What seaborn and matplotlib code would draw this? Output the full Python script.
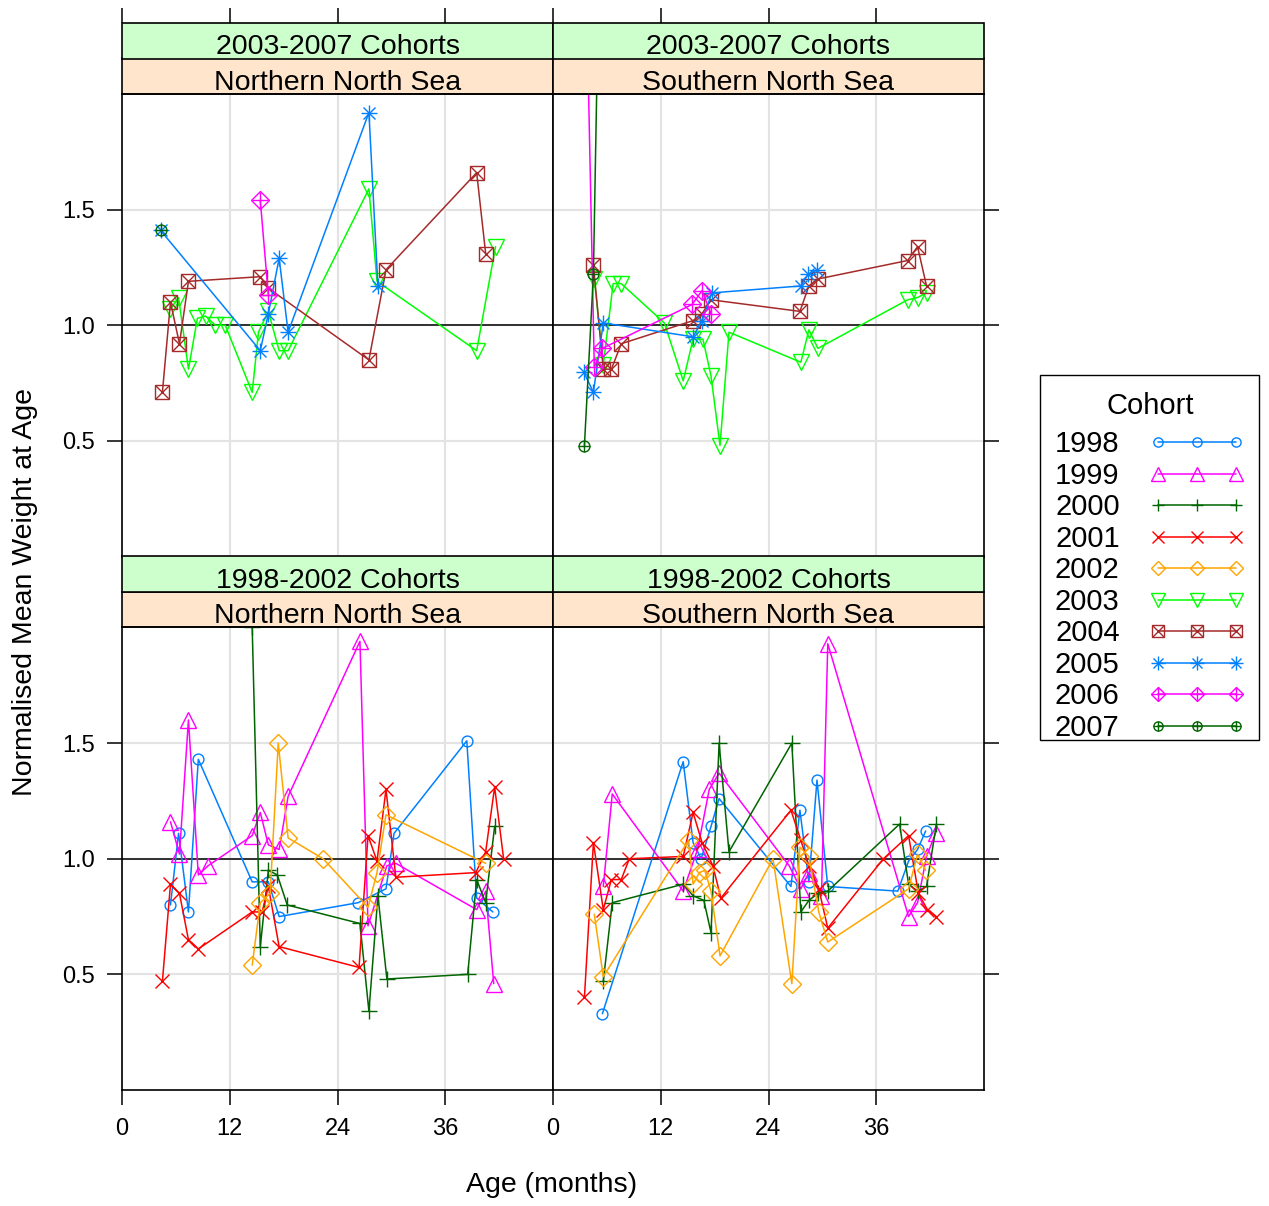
import pandas as pd
import seaborn as sns
import matplotlib.pyplot as plt
from matplotlib.lines import Line2D
from matplotlib.patches import Rectangle
from matplotlib.legend_handler import HandlerTuple

# panels
groups = ["2003-2007 Cohorts", "1998-2002 Cohorts"]
regions = ["Northern North Sea", "Southern North Sea"]
cohorts = [1998, 1999, 2000, 2001, 2002, 2003, 2004, 2005, 2006, 2007]

# Northern North Sea, 2003-2007 cohorts
nl_2003_age = [5.4, 6.3, 7.4, 8.4, 9.3, 10.4, 11.5, 14.5, 15.2, 16.3, 17.5, 18.5, 27.5, 28.4, 39.5, 41.6]
nl_2003_wt = [1.07, 1.12, 0.81, 1.03, 1.04, 1.00, 1.00, 0.71, 0.97, 1.06, 0.89, 0.89, 1.59, 1.19, 0.89, 1.34]
nl_2004_age = [4.5, 5.4, 6.4, 7.4, 15.4, 16.3, 27.5, 29.4, 39.5, 40.5]
nl_2004_wt = [0.71, 1.10, 0.92, 1.19, 1.21, 1.16, 0.85, 1.24, 1.66, 1.31]
nl_2005_age = [4.3, 15.4, 16.3, 17.5, 18.5, 27.5, 28.5]
nl_2005_wt = [1.41, 0.89, 1.05, 1.29, 0.97, 1.92, 1.17]
nl_2006_age = [15.4, 16.3]
nl_2006_wt = [1.54, 1.13]
nl_2007_age = [4.3]
nl_2007_wt = [1.41]

# Southern North Sea, 2003-2007 cohorts
sl_2003_age = [4.6, 5.6, 6.7, 7.6, 12.4, 14.5, 15.6, 16.7, 17.6, 18.6, 19.6, 27.6, 28.5, 29.5, 39.5, 40.6, 41.6]
sl_2003_wt = [1.20, 0.83, 1.18, 1.18, 1.01, 0.76, 0.94, 0.94, 0.78, 0.48, 0.97, 0.84, 0.98, 0.90, 1.11, 1.12, 1.14]
sl_2004_age = [4.5, 5.6, 6.5, 7.6, 15.6, 16.6, 17.6, 27.5, 28.5, 29.5, 39.5, 40.6, 41.6]
sl_2004_wt = [1.26, 0.81, 0.81, 0.92, 1.02, 1.05, 1.11, 1.06, 1.17, 1.20, 1.28, 1.34, 1.17]
sl_2005_age = [3.4, 4.5, 5.6, 15.6, 16.6, 17.7, 27.6, 28.4, 29.4]
sl_2005_wt = [0.80, 0.71, 1.01, 0.95, 1.02, 1.14, 1.17, 1.22, 1.24]
sl_2006_age = [3.5, 4.6, 5.5, 15.5, 16.6, 17.6]
sl_2006_wt = [2.86, 0.82, 0.90, 1.09, 1.15, 1.05]
sl_2007_age = [3.5, 4.5, 5.3]
sl_2007_wt = [0.48, 1.22, 2.95]

# Northern North Sea, 1998-2002 cohorts
ne_1998_age = [5.4, 6.3, 7.4, 8.5, 14.5, 16.3, 17.5, 26.3, 29.4, 30.3, 38.4, 39.5, 41.3]
ne_1998_wt = [0.80, 1.11, 0.77, 1.43, 0.90, 0.90, 0.75, 0.81, 0.87, 1.11, 1.51, 0.83, 0.77]
ne_1999_age = [5.4, 6.4, 7.4, 8.5, 9.6, 14.5, 15.4, 16.3, 17.5, 18.5, 26.5, 27.4, 29.5, 30.5, 39.5, 40.5, 41.4]
ne_1999_wt = [1.16, 1.02, 1.60, 0.93, 0.97, 1.10, 1.20, 1.06, 1.04, 1.27, 1.94, 0.71, 0.97, 0.98, 0.78, 0.86, 0.46]
ne_2000_age = [14.5, 15.4, 16.3, 17.3, 18.4, 26.5, 27.5, 28.5, 29.5, 38.5, 39.5, 40.5, 41.5]
ne_2000_wt = [2.0, 0.62, 0.95, 0.93, 0.80, 0.72, 0.34, 0.84, 0.48, 0.50, 0.91, 0.81, 1.14]
ne_2001_age = [4.5, 5.4, 6.4, 7.4, 8.5, 14.5, 15.6, 16.3, 17.5, 26.4, 27.4, 28.4, 29.4, 30.5, 39.4, 40.5, 41.5, 42.5]
ne_2001_wt = [0.47, 0.89, 0.85, 0.65, 0.61, 0.77, 0.77, 0.88, 0.62, 0.53, 1.10, 0.99, 1.30, 0.92, 0.94, 1.03, 1.31, 1.00]
ne_2002_age = [14.5, 15.4, 16.5, 17.4, 18.5, 22.4, 27.4, 28.4, 29.4, 40.5]
ne_2002_wt = [0.54, 0.81, 0.85, 1.50, 1.09, 1.00, 0.79, 0.94, 1.19, 0.98]

# Southern North Sea, 1998-2002 cohorts
se_1998_age = [5.5, 14.5, 15.6, 16.5, 17.6, 18.5, 26.5, 27.5, 28.5, 29.4, 30.6, 38.4, 39.6, 40.6, 41.5]
se_1998_wt = [0.33, 1.42, 1.07, 1.00, 1.14, 1.26, 0.88, 1.21, 0.90, 1.34, 0.88, 0.86, 0.99, 1.04, 1.12]
se_1999_age = [5.6, 6.6, 14.5, 16.1, 17.4, 18.5, 26.3, 27.6, 28.5, 29.9, 30.6, 39.6, 40.6, 41.6, 42.6]
se_1999_wt = [0.88, 1.28, 0.86, 1.04, 1.30, 1.37, 0.97, 0.87, 0.94, 0.84, 1.93, 0.75, 0.81, 1.01, 1.11]
se_2000_age = [5.6, 6.6, 14.5, 15.6, 16.8, 17.6, 18.5, 19.6, 26.6, 27.6, 28.5, 29.5, 30.6, 38.6, 39.6, 40.6, 41.6, 42.7]
se_2000_wt = [0.47, 0.81, 0.89, 0.84, 0.82, 0.68, 1.50, 1.03, 1.50, 0.77, 0.82, 0.85, 0.86, 1.15, 0.89, 0.86, 0.88, 1.15]
se_2001_age = [3.5, 4.5, 5.6, 6.5, 7.6, 8.5, 14.5, 15.6, 16.6, 17.8, 18.7, 26.5, 27.6, 28.5, 29.6, 30.6, 36.8, 39.6, 40.7, 41.7, 42.7]
se_2001_wt = [0.40, 1.07, 0.78, 0.91, 0.91, 1.00, 1.01, 1.20, 1.07, 0.97, 0.83, 1.21, 1.08, 0.97, 0.87, 0.70, 1.00, 1.10, 0.85, 0.78, 0.75]
se_2002_age = [4.6, 5.6, 15.1, 15.6, 16.3, 16.9, 17.6, 18.6, 24.5, 26.6, 27.5, 28.5, 29.6, 30.6, 39.6, 40.6, 41.5]
se_2002_wt = [0.76, 0.49, 1.08, 0.89, 0.94, 0.95, 0.86, 0.58, 1.00, 0.46, 1.05, 1.01, 0.77, 0.64, 0.87, 1.02, 0.95]

series = [
    (groups[0], regions[0], 2003, nl_2003_age, nl_2003_wt),
    (groups[0], regions[0], 2004, nl_2004_age, nl_2004_wt),
    (groups[0], regions[0], 2005, nl_2005_age, nl_2005_wt),
    (groups[0], regions[0], 2006, nl_2006_age, nl_2006_wt),
    (groups[0], regions[0], 2007, nl_2007_age, nl_2007_wt),
    (groups[0], regions[1], 2003, sl_2003_age, sl_2003_wt),
    (groups[0], regions[1], 2004, sl_2004_age, sl_2004_wt),
    (groups[0], regions[1], 2005, sl_2005_age, sl_2005_wt),
    (groups[0], regions[1], 2006, sl_2006_age, sl_2006_wt),
    (groups[0], regions[1], 2007, sl_2007_age, sl_2007_wt),
    (groups[1], regions[0], 1998, ne_1998_age, ne_1998_wt),
    (groups[1], regions[0], 1999, ne_1999_age, ne_1999_wt),
    (groups[1], regions[0], 2000, ne_2000_age, ne_2000_wt),
    (groups[1], regions[0], 2001, ne_2001_age, ne_2001_wt),
    (groups[1], regions[0], 2002, ne_2002_age, ne_2002_wt),
    (groups[1], regions[1], 1998, se_1998_age, se_1998_wt),
    (groups[1], regions[1], 1999, se_1999_age, se_1999_wt),
    (groups[1], regions[1], 2000, se_2000_age, se_2000_wt),
    (groups[1], regions[1], 2001, se_2001_age, se_2001_wt),
    (groups[1], regions[1], 2002, se_2002_age, se_2002_wt),
]
df = pd.concat([
    pd.DataFrame({"group": g, "region": r, "cohort": c, "age": a, "weight": w})
    for g, r, c, a, w in series
], ignore_index=True)

# lattice-like symbols: (marker, size, overlay marker, overlay size)
colors = ["#0080ff", "#ff00ff", "#006400", "#ff0000", "#ffa500", "#00ff00", "#a52a2a",
          "#0080ff", "#ff00ff", "#006400"]
symbols = [("o", 7.8, None, 0), ("^", 11.5, None, 0), ("+", 11, None, 0), ("x", 9.4, None, 0),
           ("D", 8.7, None, 0), ("v", 11.5, None, 0), ("s", 9.4, "x", 9.4),
           ("+", 11.5, "x", 8.2), ("D", 8.7, "+", 12.2), ("o", 7.8, "+", 9.0)]
style = {c: (col, sym) for c, col, sym in zip(cohorts, colors, symbols)}

sns.set_style("white")
plt.rcParams["font.family"] = ["Liberation Sans", "DejaVu Sans"]
plt.rcParams["text.color"] = "black"
plt.rcParams["axes.labelcolor"] = "black"
plt.rcParams["xtick.color"] = "black"
plt.rcParams["ytick.color"] = "black"


def draw_panel(data, **kws):
    ax = plt.gca()
    for cohort, sub in data.groupby("cohort"):
        col, (mk, ms, extra, ems) = style[cohort]
        sns.lineplot(data=sub, x="age", y="weight", sort=False, estimator=None, ax=ax,
                     color=col, linewidth=1.1, marker=mk, markersize=ms,
                     markerfacecolor="none", markeredgecolor=col, markeredgewidth=1.0,
                     legend=False)
        if extra:
            sns.lineplot(data=sub, x="age", y="weight", sort=False, estimator=None, ax=ax,
                         color=col, linestyle="none", marker=extra, markersize=ems,
                         markeredgecolor=col, markeredgewidth=1.0, legend=False)


g = sns.FacetGrid(df, row="group", col="region", row_order=groups, col_order=regions,
                  sharex=True, sharey=True, despine=False, height=5, aspect=1)
g.map_dataframe(draw_panel)
g.set_titles("")
g.set_axis_labels("", "")

fig = g.figure
fig.set_size_inches(12.69, 12.06)
fig.subplots_adjust(left=122 / 1269, right=984 / 1269, top=1 - 94 / 1206,
                    bottom=1 - 1090 / 1206, hspace=71 / 462.5, wspace=0)

s1 = 35.5 / 462.5
s2 = 71 / 462.5
nudge = 6.5 / 462.5
for i, grp in enumerate(groups):
    for j, reg in enumerate(regions):
        ax = g.axes[i, j]
        ax.set_xlim(0, 48)
        ax.set_ylim(0, 2)
        ax.set_xticks([0, 12, 24, 36])
        ax.set_yticks([0.5, 1.0, 1.5])
        ax.set_yticklabels(["0.5", "1.0", "1.5"])
        ax.grid(True, color="#e3e3e3", linewidth=1.5)
        ax.set_axisbelow(True)
        ax.axhline(1.0, color="black", linewidth=1.1, zorder=1.5)
        for sp in ax.spines.values():
            sp.set_color("black")
            sp.set_linewidth(1.2)
        ax.tick_params(direction="out", length=10.5, width=1.1, color="black",
                       labelsize=17, labelcolor="black",
                       left=(j == 0), right=(j == 1), labelleft=(j == 0), labelright=False,
                       bottom=(i == 1), top=False, labelbottom=(i == 1))
        ax.tick_params(axis="y", pad=9)
        ax.tick_params(axis="x", pad=10)
        if i == 1:
            for lab in ax.get_xticklabels():
                lab.set_visible(True)
        # strips
        ax.add_patch(Rectangle((0, 1), 1, s1, transform=ax.transAxes, clip_on=False,
                               facecolor="#ffe5cc", edgecolor="black", linewidth=1.2))
        ax.add_patch(Rectangle((0, 1 + s1), 1, s2 - s1, transform=ax.transAxes, clip_on=False,
                               facecolor="#ccffcc", edgecolor="black", linewidth=1.2))
        ax.text(0.5, 1 + s1 / 2 - nudge, reg, transform=ax.transAxes, ha="center",
                va="center", fontsize=20.5, color="black")
        ax.text(0.5, 1 + (s1 + s2) / 2 - nudge, grp, transform=ax.transAxes, ha="center",
                va="center", fontsize=20.5, color="black")
        if i == 0:
            sec = ax.secondary_xaxis(1 + s2)
            sec.set_xticks([0, 12, 24, 36])
            sec.tick_params(direction="out", length=10.5, width=1.1, color="black",
                            labeltop=False)
            sec.spines["top"].set_visible(False)

fig.text(25 / 1269, 1 - 592 / 1206, "Normalised Mean Weight at Age", rotation=90,
         ha="center", va="center", fontsize=20.5, color="black")
fig.text(552 / 1269, 1 - 1185 / 1206, "Age (months)", ha="center", va="center",
         fontsize=20.5, color="black")

handles = []
for c in cohorts:
    col, (mk, ms, extra, ems) = style[c]
    base = Line2D([], [], color=col, linewidth=1.1, marker=mk, markersize=ms * 0.85,
                  markerfacecolor="none", markeredgecolor=col, markeredgewidth=1.0)
    if extra:
        over = Line2D([], [], color=col, linestyle="none", marker=extra, markersize=ems * 0.85,
                      markeredgecolor=col, markeredgewidth=1.0)
        handles.append((base, over))
    else:
        handles.append(base)
leg = fig.legend(handles, [str(c) for c in cohorts], title="Cohort", loc="center",
                 bbox_to_anchor=(1150 / 1269, 1 - 567 / 1206), numpoints=3,
                 markerfirst=False, fontsize=21, title_fontsize=21, handlelength=3.3,
                 handletextpad=1.0, labelspacing=0.12, borderpad=0.0, frameon=False,
                 handler_map={tuple: HandlerTuple(ndivide=1, pad=0)})
leg._legend_box.sep = 7.5
# legend frame
fig.patches.append(Rectangle((1040 / 1269, 1 - 740 / 1206), 219 / 1269, 365 / 1206,
                             transform=fig.transFigure, facecolor="none",
                             edgecolor="black", linewidth=1.0))

fig.savefig("out.png", dpi=100)
